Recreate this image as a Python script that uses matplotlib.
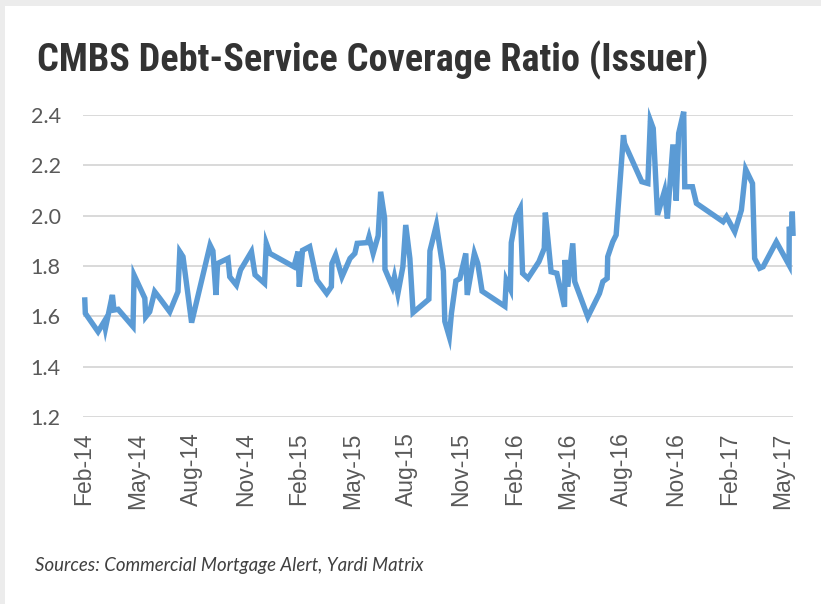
import matplotlib
matplotlib.use("Agg")
import matplotlib.pyplot as plt
from matplotlib import font_manager
from matplotlib.patches import Rectangle

# months after Feb-2014 (issue dates) and the DSCR at each one
months = [0.04, 0.07, 0.78, 1.12, 1.19, 1.58, 1.67, 1.90, 2.73, 2.79,
          3.39, 3.44, 3.66, 3.94, 4.22, 4.78, 5.24, 5.34, 5.52, 6.00,
          7.03, 7.19, 7.36, 7.45, 8.03, 8.13, 8.50, 8.73, 9.34, 9.54,
          10.07, 10.17, 10.37, 11.71, 11.94, 12.01, 12.19, 12.59, 12.99, 13.54,
          13.80, 13.83, 14.04, 14.39, 14.84, 15.11, 15.24, 15.81, 15.90, 16.13,
          16.41, 16.55, 16.77, 16.79, 17.20, 17.32, 17.51, 17.79, 17.95, 18.18,
          18.36, 19.24, 19.30, 19.66, 20.05, 20.13, 20.38, 20.50, 20.75, 20.97,
          21.30, 21.38, 21.78, 21.97, 22.21, 23.48, 23.56, 23.79, 23.84, 24.11,
          24.34, 24.47, 24.77, 25.38, 25.68, 25.74, 26.06, 26.38, 26.81, 26.84,
          26.99, 27.27, 27.38, 28.11, 28.76, 28.95, 29.19, 29.22, 29.50, 29.69,
          30.10, 30.16, 31.12, 31.46, 31.60, 31.76, 32.00, 32.39, 32.55, 32.86,
          33.04, 33.18, 33.46, 33.52, 33.95, 34.17, 35.66, 35.85, 36.31, 36.68,
          36.92, 37.30, 37.42, 37.70, 37.89, 38.63, 39.34, 39.35, 39.47, 39.52,
          39.56]
dscr = [1.665, 1.612, 1.539, 1.579, 1.552, 1.685, 1.625, 1.628, 1.559, 1.764,
        1.672, 1.598, 1.618, 1.698, 1.672, 1.618, 1.698, 1.857, 1.837, 1.575,
        1.883, 1.860, 1.685, 1.810, 1.830, 1.757, 1.724, 1.784, 1.857, 1.765,
        1.731, 1.890, 1.850, 1.797, 1.857, 1.718, 1.862, 1.877, 1.744, 1.691,
        1.718, 1.810, 1.844, 1.757, 1.830, 1.850, 1.890, 1.893, 1.916, 1.850,
        1.920, 2.095, 1.990, 1.787, 1.718, 1.757, 1.690, 1.797, 1.963, 1.830,
        1.615, 1.668, 1.860, 1.963, 1.780, 1.580, 1.519, 1.612, 1.741, 1.750,
        1.850, 1.685, 1.850, 1.810, 1.700, 1.640, 1.744, 1.708, 1.893, 1.996,
        2.029, 1.771, 1.751, 1.817, 1.870, 2.012, 1.777, 1.771, 1.638, 1.824,
        1.718, 1.890, 1.738, 1.598, 1.691, 1.738, 1.751, 1.837, 1.896, 1.923,
        2.320, 2.287, 2.135, 2.128, 2.378, 2.347, 2.003, 2.098, 1.989, 2.283,
        2.060, 2.327, 2.413, 2.115, 2.115, 2.049, 1.976, 1.996, 1.936, 2.022,
        2.184, 2.128, 1.830, 1.791, 1.797, 1.896, 1.804, 1.956, 1.930, 2.016,
        1.930]

tick_labels = ["Feb-14", "May-14", "Aug-14", "Nov-14", "Feb-15", "May-15", "Aug-15",
               "Nov-15", "Feb-16", "May-16", "Aug-16", "Nov-16", "Feb-17", "May-17"]
y_ticks = [1.2, 1.4, 1.6, 1.8, 2.0, 2.2, 2.4]

installed = {f.name for f in font_manager.fontManager.ttflist}
title_font = next((f for f in ["Roboto Condensed", "Liberation Sans Narrow", "Roboto"]
                   if f in installed), "DejaVu Sans")

W, H = 821, 604
fig = plt.figure(figsize=(W / 100, H / 100), dpi=100, facecolor="#ececec")
# white card with the grey margin on top and left
fig.patches.append(Rectangle((5 / W, 0), 1, 1 - 6 / H, transform=fig.transFigure,
                             facecolor="white", edgecolor="none", zorder=-5))

ax = fig.add_axes([83 / W, 1 - 417 / H, (793 - 83) / W, (417 - 115) / H])
ax.set_facecolor("none")
ax.plot(months, dscr, color="#5b9bd5", lw=3.9, solid_joinstyle="miter",
        zorder=3, clip_on=False)

ax.set_ylim(1.2, 2.4)
ax.set_xlim(-0.06, 39.56)
ax.set_yticks(y_ticks)
ax.set_yticklabels([f"{v:.1f}" for v in y_ticks], fontsize=15.5, color="#595959",
                   family="Lato")
ax.set_xticks(range(0, 3 * len(tick_labels), 3))
ax.set_xticklabels(tick_labels, rotation=90, fontsize=16.5, color="#595959",
                   family="Liberation Sans")
ax.tick_params(axis="y", length=0, pad=16)
ax.tick_params(axis="x", length=0, pad=11)
ax.grid(axis="y", color="#d9d9d9", lw=1.4)
ax.set_axisbelow(True)
for sp in ax.spines.values():
    sp.set_visible(False)

fig.text(37 / W, 1 - 71 / H, "CMBS Debt-Service Coverage Ratio (Issuer)",
         fontsize=27.5, fontweight="bold", family=title_font, color="#333333", va="baseline")
fig.text(35 / W, 1 - 571 / H, "Sources: Commercial Mortgage Alert, Yardi Matrix",
         fontsize=13.4, style="italic", family="Lato", color="#404040", va="baseline")

fig.savefig("out.png", dpi=100, facecolor=fig.get_facecolor())
